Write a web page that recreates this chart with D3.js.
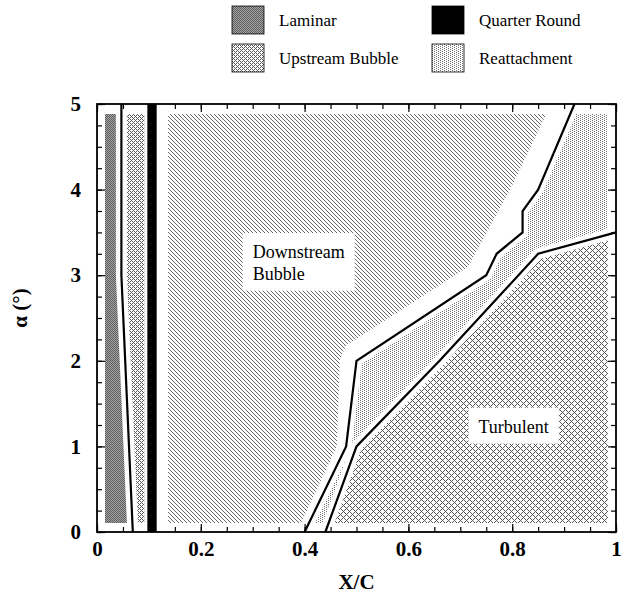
<!DOCTYPE html>
<html>
<head>
<title>Transition regions</title>
<style>
body { margin: 0; background: #fff; }
text { font-family: "Liberation Serif", "Times New Roman", serif; }
</style>
<script type="text/javascript" src="https://d3js.org/d3.v7.min.js"></script>
</head>
<body>
<svg id="chart" width="624" height="602"></svg>
<script type="text/javascript">
// tick labels
const xTicks = [0, 0.2, 0.4, 0.6, 0.8, 1];
const xTickLabels = ["0", "0.2", "0.4", "0.6", "0.8", "1"];
const yTicks = [0, 1, 2, 3, 4, 5];
const yTickLabels = ["0", "1", "2", "3", "4", "5"];

// boundary lines, [x/c, alpha]
const laminarLine = [[0.047, 5], [0.047, 3], [0.069, 0]];
const upperLine = [[0.40, 0], [0.48, 1], [0.50, 2], [0.75, 3], [0.77, 3.25],
                   [0.82, 3.5], [0.82, 3.75], [0.85, 4], [0.92, 5]];
const lowerLine = [[0.44, 0], [0.50, 1], [0.66, 2], [0.85, 3.25], [1.0, 3.5]];
const quarterRound = [0.097, 0.115];
const downstreamStart = 0.137;
// right edge of the downstream hatching (it stands off the upper line)
const downstreamEdge = [[0.385, 0], [0.462, 1], [0.468, 2.02], [0.48, 2.18],
                        [0.715, 3.1], [0.80, 4.05], [0.875, 5]];

// legend entries and region labels
const legendNames = ["Laminar", "Quarter Round", "Upstream Bubble", "Reattachment"];
const legendFills = ["pLam", "pQR", "pUp", "pRe"];
const regionLabels = [
    {lines: ["Downstream", "Bubble"], x: 0.30, a: 3.2},
    {lines: ["Turbulent"], x: 0.735, a: 1.16}
];

const svg = d3.select("#chart");
const x = d3.scaleLinear().domain([0, 1]).range([97, 616]);
const y = d3.scaleLinear().domain([0, 5]).range([532, 104]);

// ---- patterns
const defs = svg.append("defs");
function pixPattern(id, size, bg, color, pix) {
    const p = defs.append("pattern").attr("id", id)
        .attr("patternUnits", "userSpaceOnUse")
        .attr("width", size[0]).attr("height", size[1]);
    p.append("rect").attr("width", size[0]).attr("height", size[1]).attr("fill", bg);
    pix.forEach(d => p.append("rect").attr("x", d[0]).attr("y", d[1])
        .attr("width", 1).attr("height", 1).attr("fill", color)
        .attr("shape-rendering", "crispEdges"));
}
pixPattern("pLam", [2, 2], "#a4a4a4", "#5e5e5e", [[0, 0], [1, 1]]);
pixPattern("pUp", [4, 4], "#ffffff", "#5a5a5a", [[0, 3], [1, 2], [2, 1], [3, 0], [0, 1], [2, 3]]);
pixPattern("pDown", [4, 4], "#ffffff", "#666666", [[0, 0], [1, 1], [2, 2], [3, 3]]);
pixPattern("pRe", [4, 2], "#ffffff", "#6e6e6e", [[0, 0], [2, 1]]);
pixPattern("pTurb", [6, 6], "#ffffff", "#555555",
    [[0, 0], [2, 0], [1, 1], [0, 2], [2, 2], [3, 3], [5, 3], [4, 4], [3, 5], [5, 5]]);
pixPattern("pQR", [2, 2], "#000000", "#000000", []);

defs.append("clipPath").attr("id", "inner").append("rect")
    .attr("x", x(0) + 8).attr("y", y(5) + 10)
    .attr("width", x(1) - x(0) - 16).attr("height", y(0) - y(5) - 19);

const line = d3.line().x(d => x(d[0])).y(d => y(d[1]));

// ---- regions
const regions = [
    {fill: "pLam", pts: [[0, 5]].concat(laminarLine, [[0, 0]])},
    {fill: "pUp", pts: laminarLine.concat([[quarterRound[0], 0], [quarterRound[0], 5]])},
    {fill: "pDown", pts: [[downstreamStart, 5], [downstreamStart, 0]].concat(downstreamEdge)},
    {fill: "pRe", pts: upperLine.concat([[1, 5]], lowerLine.slice().reverse())},
    {fill: "pTurb", pts: lowerLine.concat([[1, 0]])}
];

const regionG = svg.append("g").attr("clip-path", "url(#inner)");
regionG.selectAll("path.region").data(regions).enter().append("path")
    .attr("class", "region")
    .attr("d", d => line(d.pts) + "Z")
    .attr("fill", d => "url(#" + d.fill + ")");

// white gaps round the boundaries
const bounds = [laminarLine, upperLine, lowerLine];
svg.selectAll("path.gap").data(bounds).enter().append("path")
    .attr("class", "gap").attr("d", line)
    .attr("fill", "none").attr("stroke", "#fff")
    .attr("stroke-width", 11).attr("stroke-linejoin", "round");
svg.append("rect")
    .attr("x", x(quarterRound[0]) - 3).attr("y", y(5))
    .attr("width", x(quarterRound[1]) - x(quarterRound[0]) + 3).attr("height", y(0) - y(5))
    .attr("fill", "#fff");

// region labels in white boxes
regionLabels.forEach(r => {
    const g = svg.append("g");
    const t = g.append("text").attr("x", x(r.x)).attr("y", y(r.a))
        .attr("font-size", 18).attr("fill", "#000");
    r.lines.forEach((s, i) => t.append("tspan").attr("x", x(r.x))
        .attr("dy", i === 0 ? 0 : "1.2em").text(s));
    const bb = t.node().getBBox();
    g.insert("rect", "text")
        .attr("x", bb.x - 10).attr("y", bb.y - 9)
        .attr("width", bb.width + 20).attr("height", bb.height + 16)
        .attr("fill", "#fff");
});

// boundary lines
svg.selectAll("path.bound").data(bounds).enter().append("path")
    .attr("class", "bound").attr("d", line)
    .attr("fill", "none").attr("stroke", "#000")
    .attr("stroke-width", 2.2).attr("stroke-linejoin", "miter");

// quarter round bar
svg.append("rect")
    .attr("x", x(quarterRound[0])).attr("y", y(5))
    .attr("width", x(quarterRound[1]) - x(quarterRound[0])).attr("height", y(0) - y(5))
    .attr("fill", "#000");

// ---- axes, ticks pointing inwards
const xMinor = d3.range(0, 1.0001, 0.05);
const yMinor = d3.range(0, 5.0001, 0.25);
function tickAxis(axis, scale, vals, len, tr) {
    const g = svg.append("g").attr("transform", tr)
        .call(axis(scale).tickValues(vals).tickSize(-len).tickFormat(""));
    g.select(".domain").remove();
    g.selectAll(".tick line").attr("stroke", "#000").attr("stroke-width", 1.2);
}
[[xMinor, 5], [xTicks, 8]].forEach(v => {
    tickAxis(d3.axisBottom, x, v[0], v[1], `translate(0,${y(0)})`);
    tickAxis(d3.axisTop, x, v[0], v[1], `translate(0,${y(5)})`);
});
[[yMinor, 5], [yTicks, 8]].forEach(v => {
    tickAxis(d3.axisLeft, y, v[0], v[1], `translate(${x(0)},0)`);
    tickAxis(d3.axisRight, y, v[0], v[1], `translate(${x(1)},0)`);
});

svg.append("rect")
    .attr("x", x(0)).attr("y", y(5))
    .attr("width", x(1) - x(0)).attr("height", y(0) - y(5))
    .attr("fill", "none").attr("stroke", "#000").attr("stroke-width", 1.8);

const xLab = svg.append("g").attr("transform", `translate(0,${y(0)})`)
    .call(d3.axisBottom(x).tickValues(xTicks).tickSize(0).tickPadding(9)
        .tickFormat((d, i) => xTickLabels[i]));
const yLab = svg.append("g").attr("transform", `translate(${x(0)},0)`)
    .call(d3.axisLeft(y).tickValues(yTicks).tickSize(0).tickPadding(16)
        .tickFormat((d, i) => yTickLabels[i]));
[xLab, yLab].forEach(g => {
    g.select(".domain").remove();
    g.selectAll("text").attr("font-family", "Liberation Serif, serif")
        .attr("font-size", 21).attr("font-weight", "bold").attr("fill", "#000");
});

svg.append("text").attr("x", (x(0) + x(1)) / 2).attr("y", 589)
    .attr("text-anchor", "middle").attr("font-size", 21).attr("font-weight", "bold")
    .text("X/C");
svg.append("text").attr("transform", `translate(27,${(y(0) + y(5)) / 2 - 10}) rotate(-90)`)
    .attr("text-anchor", "middle").attr("font-size", 21).attr("font-weight", "bold")
    .text("α (°)");

// ---- legend
const leg = svg.append("g");
const legX = [232, 432];
const legY = [6, 44];
legendNames.forEach((name, i) => {
    const lx = legX[i % 2], ly = legY[Math.floor(i / 2)];
    leg.append("rect").attr("x", lx).attr("y", ly).attr("width", 32).attr("height", 28)
        .attr("fill", "url(#" + legendFills[i] + ")")
        .attr("stroke", "#000").attr("stroke-width", 0.8);
    leg.append("text").attr("x", lx + 47).attr("y", ly + 20)
        .attr("font-size", 17).text(name);
});
</script>
</body>
</html>
